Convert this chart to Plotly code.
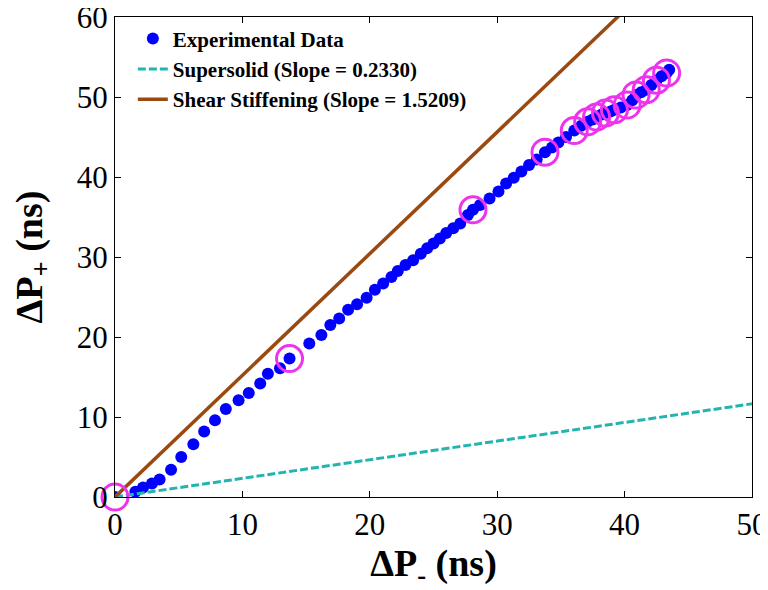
import plotly.graph_objects as go

# Experimental data (ΔP-, ΔP+) in ns
dp_minus = [0.0, 1.6, 2.2, 2.9, 3.5, 4.4, 5.2, 6.15, 7.0, 7.85, 8.7, 9.7, 10.5, 11.4,
            12.0, 12.95, 13.7, 15.25, 16.2, 16.9, 17.6, 18.3, 19.0, 19.75, 20.4, 21.05,
            21.7, 22.2, 22.8, 23.4, 24.0, 24.5, 25.0, 25.5, 26.0, 26.55, 27.1, 27.7,
            28.1, 28.65, 29.4, 30.1, 30.7, 31.3, 31.9, 32.5, 33.1, 33.75, 34.3, 34.8,
            35.4, 36.05, 36.6, 37.1, 37.5, 37.8, 38.2, 38.5, 38.9, 39.2, 39.7, 40.2,
            40.6, 40.9, 41.3, 41.7, 42.1, 42.5, 42.9, 43.3, 43.5]
dp_plus = [0.0, 0.66, 1.2, 1.7, 2.2, 3.4, 5.0, 6.6, 8.2, 9.6, 11.0, 12.1, 13.0, 14.2,
           15.4, 16.1, 17.3, 19.2, 20.25, 21.5, 22.3, 23.4, 24.1, 24.9, 25.9, 26.7,
           27.5, 28.25, 29.0, 29.6, 30.4, 31.1, 31.7, 32.3, 33.0, 33.6, 34.2, 35.25,
           35.9, 36.5, 37.3, 38.2, 39.2, 39.9, 40.7, 41.5, 42.2, 43.1, 43.7, 44.3,
           45.0, 45.8, 46.4, 46.9, 47.2, 47.5, 47.8, 48.0, 48.2, 48.4, 48.7, 49.0,
           49.6, 50.25, 50.6, 50.9, 51.5, 52.1, 52.6, 53.0, 53.4]

# Highlighted points (magenta circles)
hl_minus = [0.0, 13.7, 28.1, 33.75, 36.05, 37.1, 37.8, 38.5, 39.2, 40.2, 40.9, 41.7, 42.5, 43.3]
hl_plus = [0.0, 17.3, 35.9, 43.1, 45.8, 46.9, 47.5, 48.0, 48.4, 49.0, 50.25, 50.9, 52.1, 53.0]

# Fit slopes
slope_supersolid = 0.2330
slope_shear = 1.5209

x_range = [0, 50]
y_range = [0, 60]
x_ticks = [0, 10, 20, 30, 40, 50]
y_ticks = [0, 10, 20, 30, 40, 50, 60]

serif = "Liberation Serif"

fig = go.Figure()

fig.add_trace(go.Scatter(
    x=dp_minus, y=dp_plus, mode="markers",
    marker=dict(color="#0000FF", size=12, line=dict(width=0)),
    name="<b>Experimental Data</b>"))

fig.add_trace(go.Scatter(
    x=x_range, y=[slope_supersolid * v for v in x_range], mode="lines",
    line=dict(color="#22B5B0", width=3, dash="8px,3px"),
    name="<b>Supersolid (Slope = %.4f)</b>" % slope_supersolid))

fig.add_trace(go.Scatter(
    x=x_range, y=[slope_shear * v for v in x_range], mode="lines",
    line=dict(color="#9A4A10", width=3.5),
    name="<b>Shear Stiffening (Slope = %.4f)</b>" % slope_shear))

fig.add_trace(go.Scatter(
    x=hl_minus, y=hl_plus, mode="markers",
    marker=dict(symbol="circle-open", color="#EE33EE", size=26, line=dict(width=3, color="#EE33EE")),
    showlegend=False, cliponaxis=False))

axis_common = dict(
    showgrid=False, zeroline=False, showline=True, linecolor="black", linewidth=1,
    mirror="ticks", ticks="inside", ticklen=6, tickcolor="black", automargin=False,
    ticklabeloverflow="allow",
    tickfont=dict(family=serif, size=31, color="black"),
)

# page body has an 8px margin, so the figure is shifted by 8px right/down
fig.update_layout(
    width=768, height=590,
    margin=dict(l=107, r=24, t=9, b=101),
    paper_bgcolor="white", plot_bgcolor="white",
    showlegend=True,
    legend=dict(x=0.028, y=0.997, xanchor="left", yanchor="top",
                bgcolor="rgba(0,0,0,0)", borderwidth=0,
                font=dict(family=serif, size=21, color="black"),
                tracegroupgap=0),
    xaxis=dict(range=x_range, tickvals=x_ticks, **axis_common,
               title=dict(text="<b>ΔP<sub>-</sub> (ns)</b>", standoff=2,
                          font=dict(family=serif, size=38, color="black"))),
    yaxis=dict(range=y_range, tickvals=y_ticks, **axis_common,
               title=dict(text="<b>ΔP<sub>+</sub> (ns)</b>", standoff=33,
                          font=dict(family=serif, size=38, color="black"))),
)

fig.write_html("out.html")
